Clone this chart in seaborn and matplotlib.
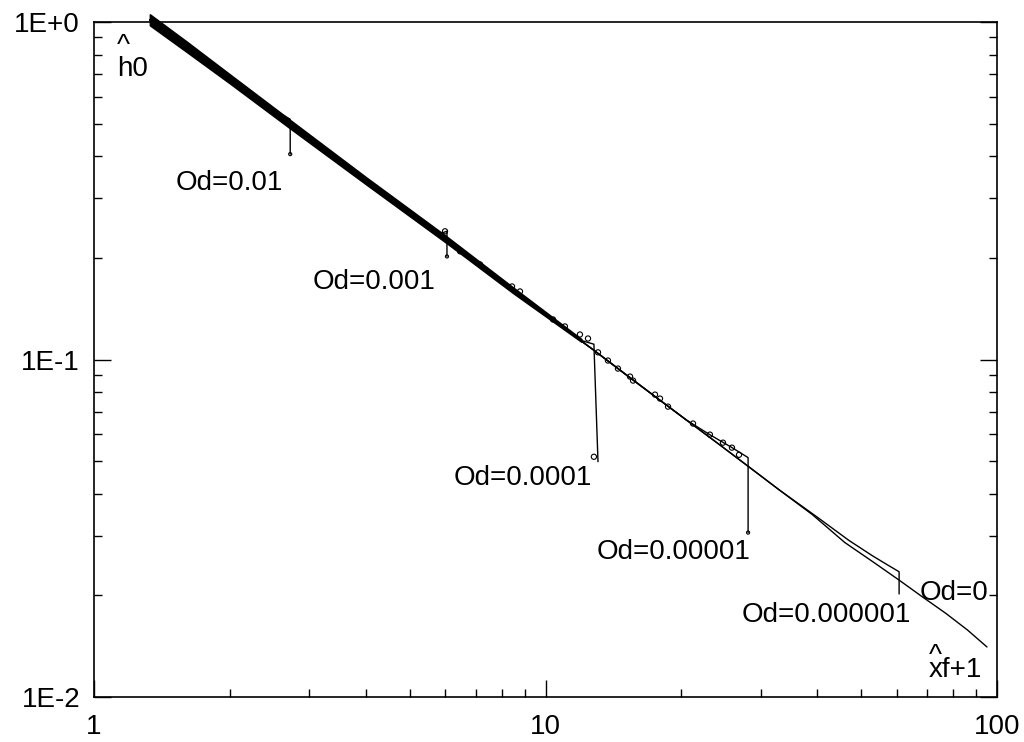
import numpy as np
import pandas as pd
import matplotlib
matplotlib.use("Agg")
import matplotlib.pyplot as plt
import seaborn as sns
from matplotlib.ticker import LogLocator, NullFormatter, FixedLocator

# ---------------- data ----------------
series_names = ["Od=0", "Od=0.000001", "Od=0.00001", "Od=0.0001", "Od=0.001", "Od=0.01"]

x_od0 = [1.33, 1.5, 1.75, 2.0, 2.35, 2.72, 3.2, 3.8, 4.5, 5.3, 6.05, 7.0, 8.2, 9.5, 11.0,
         12.8, 15.0, 17.5, 20.5, 24.0, 28.1, 33.0, 39.0, 46.0, 53.0, 60.7, 68.0, 77.0, 86.0, 95.0]
y_od0 = [1.015, 0.902, 0.775, 0.678, 0.577, 0.498, 0.424, 0.357, 0.301, 0.256, 0.226, 0.194,
         0.166, 0.143, 0.1235, 0.1065, 0.0905, 0.0776, 0.0662, 0.0566, 0.0483, 0.0410, 0.0347,
         0.0287, 0.0252, 0.0222, 0.0199, 0.0177, 0.0158, 0.01407]

x_od6 = [1.33, 2.0, 2.72, 4.0, 6.05, 9.5, 12.8, 17.5, 24.0, 33.0, 40.0, 47.0, 53.0, 57.0, 60.7, 60.7]
y_od6 = [1.015, 0.678, 0.498, 0.339, 0.226, 0.143, 0.1065, 0.0776, 0.0566, 0.0410, 0.0341,
         0.0291, 0.0262, 0.0247, 0.0235, 0.0202]

x_od5 = [1.33, 2.0, 2.72, 4.0, 6.05, 9.5, 12.8, 17.5, 20.5, 23.1, 25.9, 28.1, 28.1]
y_od5 = [1.015, 0.678, 0.498, 0.339, 0.226, 0.143, 0.1065, 0.0776, 0.0662, 0.0599, 0.0548,
         0.0512, 0.0307]

x_od4 = [1.33, 2.0, 2.72, 4.0, 6.05, 9.5, 11.0, 12.1, 12.8, 13.07]
y_od4 = [1.015, 0.678, 0.498, 0.339, 0.226, 0.143, 0.1235, 0.1135, 0.111, 0.0498]

x_od3 = [1.33, 2.0, 2.72, 4.0, 5.3, 5.85, 6.05, 6.05]
y_od3 = [1.015, 0.678, 0.498, 0.339, 0.256, 0.236, 0.240, 0.202]

x_od2 = [1.33, 1.75, 2.35, 2.62, 2.72, 2.72]
y_od2 = [1.015, 0.775, 0.577, 0.530, 0.515, 0.406]

# dense cloud of sample points near the start (upper / lower envelope)
band_x = [1.33, 1.6, 2.0, 2.72, 4.0, 6.05, 8.5, 12.0]
band_lo = [0.978, 0.818, 0.658, 0.484, 0.331, 0.221, 0.157, 0.113]
band_hi = [1.053, 0.877, 0.699, 0.512, 0.347, 0.231, 0.163, 0.115]

# individual sample markers (open circles)
mk_x = [5.99, 6.47, 7.16, 8.43, 8.78, 10.39, 11.04, 11.92, 12.42,
        13.07, 13.75, 14.47, 15.39, 15.63, 17.48, 17.93, 18.68, 21.22, 23.13, 24.72, 25.88,
        26.83, 12.8]
mk_y = [0.2398, 0.2092, 0.1913, 0.1646, 0.1591, 0.1314,
        0.1253, 0.1186, 0.1154, 0.105, 0.0993, 0.0940, 0.0890, 0.0866, 0.0787, 0.0766, 0.0725,
        0.0646, 0.0599, 0.0567, 0.0548, 0.0522, 0.0515]

# end dots of the drops
end_x = [2.72, 6.05, 28.1]
end_y = [0.406, 0.202, 0.0307]

# annotations
label_text = ["Od=0.01", "Od=0.001", "Od=0.0001", "Od=0.00001", "Od=0.000001", "Od=0"]
label_x = [1.99, 4.17, 8.92, 19.26, 41.8, 80.3]
label_y = [0.333, 0.1693, 0.0446, 0.0269, 0.0175, 0.02035]

x_ticks = [1, 10, 100]
x_tick_labels = ["1", "10", "100"]
y_ticks = [0.01, 0.1, 1]
y_tick_labels = ["1E-2", "1E-1", "1E+0"]

# ---------------- plotting ----------------
sns.set_theme(style="white")
plt.rcParams["font.family"] = ["Liberation Sans", "DejaVu Sans"]
plt.rcParams["text.color"] = "black"
plt.rcParams["xtick.color"] = "black"
plt.rcParams["ytick.color"] = "black"

fig = plt.figure(figsize=(10.24, 7.42), dpi=100)
ax = fig.add_axes([94 / 1024, 1 - 697 / 742, (997 - 94) / 1024, (697 - 22) / 742])
ax.set_xscale("log")
ax.set_yscale("log")

rows = []
for name, xs, ys in [("Od=0", x_od0, y_od0), ("Od=0.000001", x_od6, y_od6),
                     ("Od=0.00001", x_od5, y_od5), ("Od=0.0001", x_od4, y_od4),
                     ("Od=0.001", x_od3, y_od3), ("Od=0.01", x_od2, y_od2)]:
    for i, (a, b) in enumerate(zip(xs, ys)):
        rows.append({"series": name, "x": a, "y": b, "order": i})
df = pd.DataFrame(rows)

sns.lineplot(data=df, x="x", y="y", hue="series", hue_order=series_names,
             palette=["black"] * len(series_names), estimator=None, sort=False,
             units="series", linewidth=1.0, legend=False, ax=ax, clip_on=False)

ax.fill_between(band_x, band_lo, band_hi, color="black", linewidth=1.2,
                edgecolor="black", clip_on=False, zorder=3)

sns.scatterplot(x=mk_x, y=mk_y, marker="o", s=14, facecolor="none",
                edgecolor="black", linewidth=0.8, ax=ax, zorder=4)
sns.scatterplot(x=end_x, y=end_y, marker="o", s=5, facecolor="none",
                edgecolor="black", linewidth=0.8, ax=ax, zorder=4)

ax.set_xlim(1, 100)
ax.set_ylim(0.01, 1)

for t, lx, ly in zip(label_text, label_x, label_y):
    ax.text(lx, ly, t, fontsize=20, ha="center", va="center", color="black")

# axis name annotations (caret above the symbol)
ax.text(1.124, 0.664, "^\nh0", fontsize=20, ha="left", va="bottom",
        multialignment="left", linespacing=0.85, color="black")
ax.text(70.7, 0.01101, "^\nxf+1", fontsize=20, ha="left", va="bottom",
        multialignment="left", linespacing=0.4, color="black")

ax.xaxis.set_major_locator(FixedLocator(x_ticks))
ax.set_xticklabels(x_tick_labels)
ax.yaxis.set_major_locator(FixedLocator(y_ticks))
ax.set_yticklabels(y_tick_labels)
ax.xaxis.set_minor_locator(LogLocator(base=10, subs=np.arange(2, 10)))
ax.yaxis.set_minor_locator(LogLocator(base=10, subs=np.arange(2, 10)))
ax.xaxis.set_minor_formatter(NullFormatter())
ax.yaxis.set_minor_formatter(NullFormatter())

ax.tick_params(axis="both", which="major", direction="in", length=12, width=1.0,
               labelsize=20, color="black", labelcolor="black")
ax.tick_params(axis="both", which="minor", direction="in", length=6, width=1.0, color="black")
ax.tick_params(axis="y", which="both", left=True, right=True, pad=10)
ax.tick_params(axis="x", which="both", bottom=True, top=False, pad=12)
ax.set_xlabel("")
ax.set_ylabel("")

for s in ax.spines.values():
    s.set_visible(True)
    s.set_color("black")
    s.set_linewidth(1.2)

fig.savefig("out.png", dpi=100, facecolor="white")
